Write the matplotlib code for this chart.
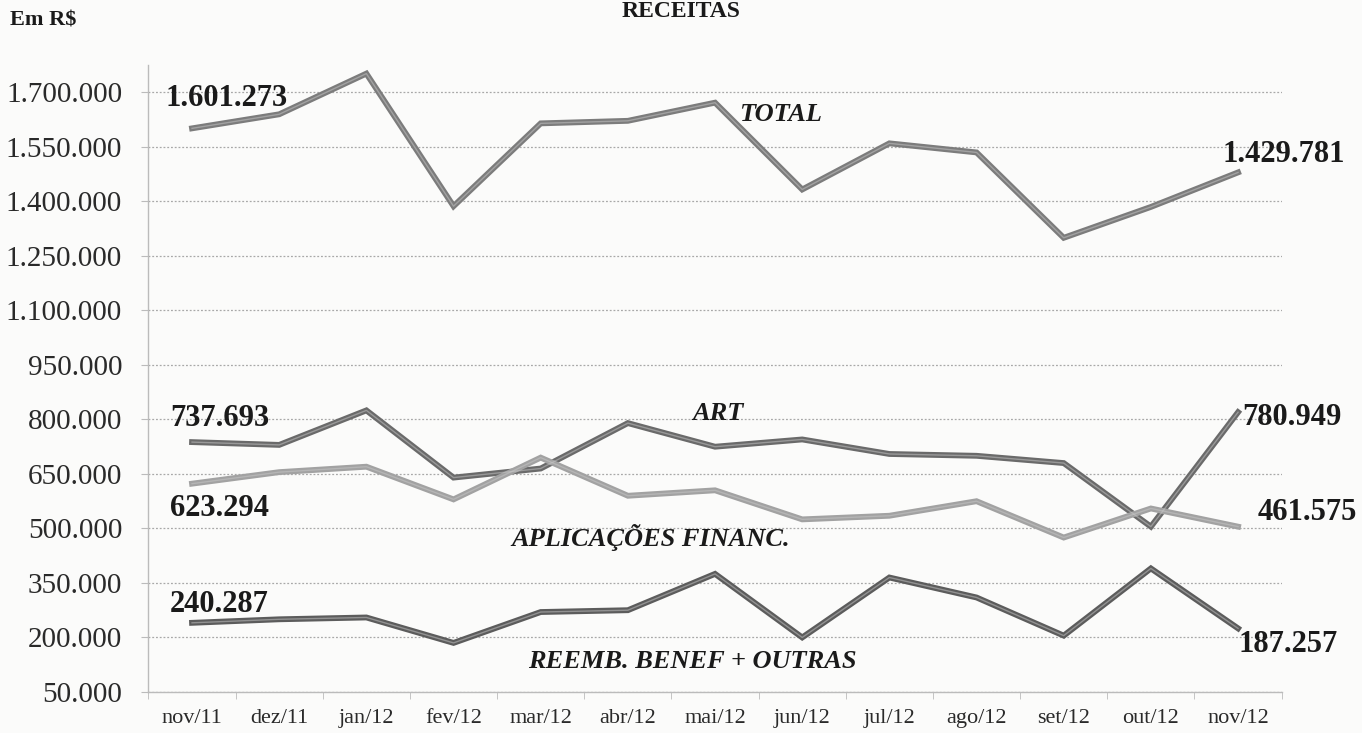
import numpy as np
import matplotlib
matplotlib.use("Agg")
import matplotlib.pyplot as plt
import matplotlib.patheffects as pe
from matplotlib.ticker import FuncFormatter

plt.rcParams['font.family'] = ['Liberation Serif', 'DejaVu Serif']

# ── data (R$) ─────────────────────────────────────────────
months = ["nov/11", "dez/11", "jan/12", "fev/12", "mar/12", "abr/12", "mai/12",
          "jun/12", "jul/12", "ago/12", "set/12", "out/12", "nov/12"]

total = [1601273, 1640000, 1752000, 1387000, 1615000, 1622000, 1672000,
         1433000, 1560000, 1535000, 1300000, 1385000, 1480000]
art = [737693, 730000, 825000, 640000, 665000, 790000, 725000,
       745000, 705000, 700000, 680000, 505000, 820000]
aplic = [623294, 655000, 670000, 580000, 695000, 590000, 605000,
         525000, 535000, 575000, 475000, 555000, 505000]
reemb = [240287, 250000, 255000, 185000, 270000, 275000, 375000,
         200000, 365000, 310000, 205000, 390000, 225000]

y_ticks = [50000, 200000, 350000, 500000, 650000, 800000, 950000,
           1100000, 1250000, 1400000, 1550000, 1700000]

series_names = ["TOTAL", "ART", "APLICAÇÕES FINANC.", "REEMB. BENEF + OUTRAS"]
first_labels = ["1.601.273", "737.693", "623.294", "240.287"]
last_labels = ["1.429.781", "780.949", "461.575", "187.257"]

# ── figure ────────────────────────────────────────────────
fig = plt.figure(figsize=(13.62, 7.33), dpi=100, facecolor="#fbfbfa")
ax = fig.add_axes([0.109, 0.056, 0.832, 0.855], facecolor="#fbfbfa")

x = np.arange(len(months))
styles = [
    (total, "#7c7c7c"),
    (art, "#6a6a6a"),
    (aplic, "#a2a2a2"),
    (reemb, "#5c5c5c"),
]
for vals, col in styles:
    ax.plot(x, vals, color=col, lw=4.2, solid_joinstyle="miter", zorder=3)
    ax.plot(x, vals, color="#c8c8c8", lw=1.0, alpha=0.5, zorder=4)

ax.set_xlim(-0.45, 12.5)
ax.set_ylim(50000, 1775000)
ax.set_yticks(y_ticks)
ax.yaxis.set_major_formatter(FuncFormatter(lambda v, p: f"{int(v):,}".replace(",", ".")))
ax.set_xticks(x)
ax.set_xticklabels(months)
ax.set_xticks(np.arange(-0.5, 13, 1), minor=True)
ax.tick_params(axis="x", which="major", length=0, pad=12, labelsize=16, colors="#2a2a2a")
ax.tick_params(axis="x", which="minor", length=5, color="#bbbbbb")
ax.tick_params(axis="y", length=5, color="#bbbbbb", labelsize=21, colors="#2a2a2a", pad=14)

ax.grid(axis="y", ls=(0, (1.5, 1.5)), color="#a8a8a8", lw=0.9, zorder=1)
for s in ["top", "right"]:
    ax.spines[s].set_visible(False)
for s in ["left", "bottom"]:
    ax.spines[s].set_color("#bbbbbb")
    ax.spines[s].set_linewidth(1.0)

# ── value labels ──────────────────────────────────────────
all_series = [total, art, aplic, reemb]
first_off = [(-27, 30), (-22, 24), (-22, -25), (-22, 18)]
last_off = [(-16, 18), (4, -5), (20, 14), (0, -16)]
for vals, lab, off in zip(all_series, first_labels, first_off):
    ax.annotate(lab, (0, vals[0]), xytext=off, textcoords="offset pixels",
                ha="left", va="center", fontsize=22, fontweight="bold", color="#1a1a1a")
for vals, lab, off in zip(all_series, last_labels, last_off):
    ax.annotate(lab, (12, vals[-1]), xytext=off, textcoords="offset pixels",
                ha="left", va="center", fontsize=22, fontweight="bold", color="#1a1a1a")

name_pos = [(6.75, 1640000), (6.03, 816000), (5.26, 476000), (5.74, 135000)]
for name, (nx, ny) in zip(series_names, name_pos):
    ax.text(nx, ny, name, ha="center", va="center", fontsize=19,
            fontweight="bold", fontstyle="italic", color="#1a1a1a")

fig.text(0.007, 0.972, "Em R$", ha="left", va="center", fontsize=16,
         fontweight="bold", color="#1a1a1a")
fig.text(0.5, 0.999, "RECEITAS", ha="center", va="top", fontsize=17,
         fontweight="bold", color="#1a1a1a")

fig.savefig("out.png", dpi=100, facecolor=fig.get_facecolor())
